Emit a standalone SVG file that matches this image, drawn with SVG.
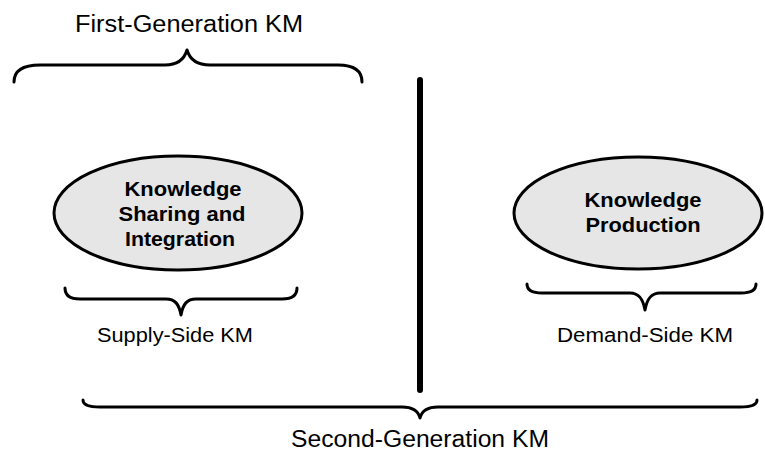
<svg xmlns="http://www.w3.org/2000/svg" width="765" height="462" viewBox="0 0 765 462">
<style>
.brace{fill:none;stroke:#000;stroke-width:3;stroke-linecap:round;stroke-linejoin:round}
.ell{fill:#e6e6e6;stroke:#000;stroke-width:3}
.lbl{font-family:"Liberation Sans",Arial,sans-serif;fill:#000;text-anchor:middle}
.big{font-size:23px}
.mid{font-size:20px}
.bold{font-size:20px;font-weight:bold}
</style>
<rect width="765" height="462" fill="#fff"/>
<g id="connectors">
<path id="brace-first" class="brace" d="M14,82 C14,71 22,65 40,65 L165,65 C177,65 184,60 187,50 C190,60 197,65 210,65 L338,65 C354,65 362,71 362,82"/>
<path id="brace-supply" class="brace" d="M65,288 C65,295 70,299 80,299 L166,299 C175,299 179,304 181,315 C183,304 187,299 196,299 L282,299 C292,299 297,295 297,288"/>
<path id="brace-demand" class="brace" d="M527,284 C527,290 532,293 542,293 L630,293 C639,293 643,299 645,310 C647,299 651,293 660,293 L741,293 C751,293 756,290 756,284"/>
<path id="brace-second" class="brace" d="M83,400 C83,405 88,407 100,407 L402,407 C412,407 418,410 420,418 C422,410 428,407 438,407 L740,407 C752,407 757,405 757,400"/>
<line id="divider" x1="420" y1="80" x2="420" y2="390" stroke="#000" stroke-width="6" stroke-linecap="round"/>
</g>
<g id="label-first">
<text class="lbl big" x="189" y="32" textLength="228" lengthAdjust="spacingAndGlyphs">First-Generation KM</text>
</g>
<g id="node-sharing">
<ellipse class="ell" cx="178" cy="213" rx="124" ry="57"/>
<text class="lbl bold" x="183" y="196" textLength="117" lengthAdjust="spacingAndGlyphs">Knowledge</text>
<text class="lbl bold" x="182" y="221" textLength="127" lengthAdjust="spacingAndGlyphs">Sharing and</text>
<text class="lbl bold" x="180" y="246" textLength="110" lengthAdjust="spacingAndGlyphs">Integration</text>
</g>
<g id="node-production">
<ellipse class="ell" cx="638" cy="213" rx="124" ry="56"/>
<text class="lbl bold" x="643" y="207" textLength="117" lengthAdjust="spacingAndGlyphs">Knowledge</text>
<text class="lbl bold" x="643" y="232" textLength="115" lengthAdjust="spacingAndGlyphs">Production</text>
</g>
<g id="label-supply">
<text class="lbl mid" x="175" y="342" textLength="156" lengthAdjust="spacingAndGlyphs">Supply-Side KM</text>
</g>
<g id="label-demand">
<text class="lbl mid" x="645" y="342" textLength="176" lengthAdjust="spacingAndGlyphs">Demand-Side KM</text>
</g>
<g id="label-second">
<text class="lbl big" x="420" y="447" textLength="258" lengthAdjust="spacingAndGlyphs">Second-Generation KM</text>
</g>
</svg>
